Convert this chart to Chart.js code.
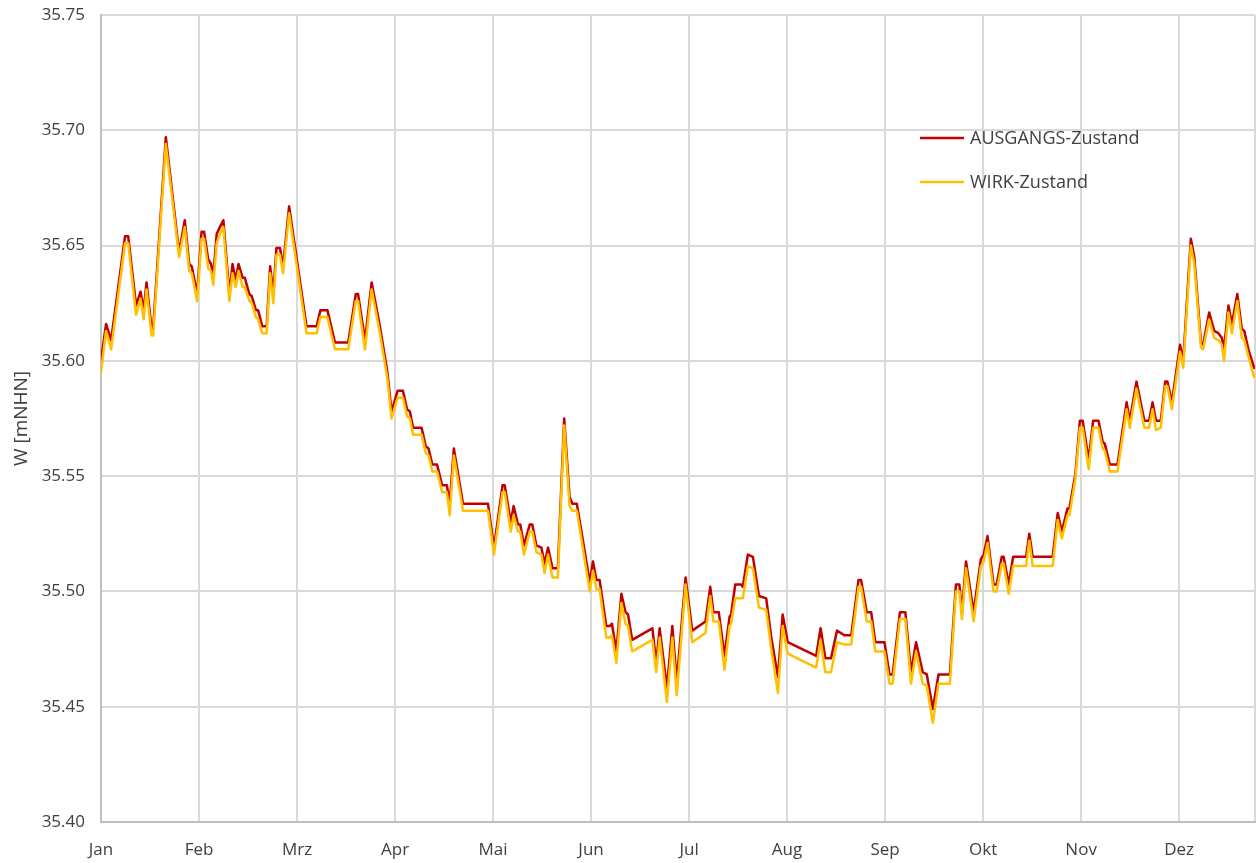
<!DOCTYPE html>
<html lang="de">
<head>
<meta charset="utf-8">
<title>W [mNHN]</title>
<script src="https://cdn.jsdelivr.net/npm/chart.js@4.4.1/dist/chart.umd.min.js"></script>
<style>
  html, body { margin: 0; padding: 0; background: #fff; }
  #wrap { width: 1256px; height: 863px; }
</style>
</head>
<body>
<div id="wrap"><canvas id="myChart" width="1256" height="863"></canvas></div>
<script>
// Achsen
const monate = ['Jan', 'Feb', 'Mrz', 'Apr', 'Mai', 'Jun', 'Jul', 'Aug', 'Sep', 'Okt', 'Nov', 'Dez'];
const monatsTicks = [0, 31, 62, 93, 124, 155, 186, 217, 248, 279, 310, 341, 365];

// Tag im Jahr (Stuetzstellen)
const tage = [
  0, 1.6, 3.2, 7.6, 8.6, 11.1, 12.5, 13.5, 14.4, 16.0, 16.5, 20.5, 24.7, 26.5, 27.9, 28.7, 30.4,
  31.8, 32.6, 33.9, 34.8, 35.5, 36.6, 37.6, 38.7, 40.6, 41.6, 42.6, 43.5, 44.8, 45.5, 46.9, 47.7,
  49.0, 49.7, 51.0, 52.4, 53.5, 54.5, 55.5, 56.6, 57.6, 59.5, 61.3, 65.0, 68.2, 69.4, 71.6, 74.0,
  78.2, 80.6, 81.3, 83.5, 85.6, 88.2, 90.5, 91.9, 93.8, 95.5, 96.8, 97.7, 98.7, 101.4, 102.7, 103.6,
  104.8, 106.3, 107.9, 109.4, 110.3, 111.6, 114.5, 122.4, 124.3, 127.0, 127.7, 129.6, 130.5, 131.9,
  132.6, 133.8, 135.6, 136.4, 137.7, 139.3, 140.3, 141.4, 142.8, 144.5, 146.5, 148.2, 149.1, 150.5,
  154.6, 155.6, 156.7, 157.7, 159.8, 160.9, 161.6, 163.0, 164.6, 165.9, 166.7, 168.0, 174.4, 175.6,
  176.7, 179.0, 180.7, 182.1, 184.9, 187.0, 191.2, 192.7, 193.7, 195.4, 197.2, 198.8, 199.3, 200.6,
  202.5, 203.0, 204.6, 206.2, 208.1, 210.4, 212.0, 214.1, 215.6, 217.2, 226.2, 227.6, 229.1, 230.9,
  232.8, 235.1, 237.3, 239.6, 240.4, 242.2, 243.6, 244.9, 247.8, 249.4, 250.4, 252.7, 254.4, 256.2,
  257.8, 259.9, 261.2, 263.1, 264.9, 268.5, 270.4, 271.5, 272.3, 273.6, 276.0, 278.3, 279.2, 280.4,
  282.3, 283.3, 284.9, 285.5, 287.1, 288.5, 292.6, 293.6, 294.7, 301.0, 302.6, 303.9, 305.7, 306.3,
  308.2, 309.6, 310.5, 312.4, 313.8, 315.5, 316.8, 317.5, 319.1, 321.5, 324.4, 325.4, 327.5, 330.0,
  331.5, 332.6, 333.7, 335.2, 336.6, 337.3, 338.7, 341.3, 342.3, 344.7, 345.8, 347.9, 348.6, 350.5,
  352.1, 353.4, 354.5, 355.2, 356.6, 357.7, 359.4, 360.8, 361.6, 362.9, 364.7
];

// AUSGANGS-Zustand
const ausgang = [
  35.600, 35.616, 35.609, 35.654, 35.654, 35.624, 35.630, 35.622, 35.634, 35.614, 35.614, 35.697, 35.647, 35.661, 35.642, 35.641, 35.629,
  35.656, 35.656, 35.644, 35.642, 35.637, 35.655, 35.658, 35.661, 35.629, 35.642, 35.635, 35.642, 35.636, 35.636, 35.629, 35.628,
  35.622, 35.622, 35.615, 35.615, 35.641, 35.629, 35.649, 35.649, 35.641, 35.667, 35.650, 35.615, 35.615, 35.622, 35.622, 35.608,
  35.608, 35.629, 35.629, 35.609, 35.634, 35.615, 35.596, 35.578, 35.587, 35.587, 35.579, 35.578, 35.571, 35.571, 35.563, 35.562,
  35.555, 35.555, 35.546, 35.546, 35.538, 35.562, 35.538, 35.538, 35.519, 35.546, 35.546, 35.530, 35.537, 35.529,
  35.529, 35.520, 35.529, 35.529, 35.520, 35.519, 35.512, 35.519, 35.510, 35.510, 35.575, 35.541, 35.538, 35.538,
  35.504, 35.513, 35.505, 35.505, 35.485, 35.485, 35.486, 35.474, 35.499, 35.491, 35.490, 35.479, 35.484, 35.469,
  35.484, 35.458, 35.485, 35.461, 35.506, 35.483, 35.487, 35.502, 35.491, 35.491, 35.472, 35.489, 35.490, 35.503,
  35.503, 35.502, 35.516, 35.515, 35.498, 35.497, 35.480, 35.463, 35.490, 35.478, 35.472, 35.484, 35.471, 35.471,
  35.483, 35.481, 35.481, 35.505, 35.505, 35.491, 35.491, 35.478, 35.478, 35.464, 35.464, 35.491, 35.491, 35.465,
  35.478, 35.465, 35.464, 35.449, 35.464, 35.464, 35.503, 35.503, 35.491, 35.513, 35.491, 35.514, 35.516, 35.524,
  35.503, 35.503, 35.515, 35.515, 35.503, 35.515, 35.515, 35.525, 35.515, 35.515, 35.534, 35.526, 35.536, 35.536,
  35.551, 35.574, 35.574, 35.557, 35.574, 35.574, 35.565, 35.564, 35.555, 35.555, 35.582, 35.574, 35.591, 35.574,
  35.574, 35.582, 35.574, 35.574, 35.591, 35.591, 35.582, 35.607, 35.600, 35.653, 35.645, 35.608, 35.607, 35.621,
  35.613, 35.612, 35.610, 35.605, 35.624, 35.616, 35.629, 35.614, 35.613, 35.605, 35.597
];

// WIRK-Zustand
const wirk = [
  35.595, 35.613, 35.605, 35.651, 35.651, 35.620, 35.627, 35.618, 35.631, 35.611, 35.611, 35.694, 35.645, 35.658, 35.639, 35.638, 35.626,
  35.653, 35.653, 35.640, 35.639, 35.633, 35.651, 35.655, 35.658, 35.626, 35.638, 35.632, 35.639, 35.632, 35.632, 35.626, 35.625,
  35.619, 35.618, 35.612, 35.612, 35.638, 35.625, 35.646, 35.646, 35.638, 35.664, 35.647, 35.612, 35.612, 35.619, 35.619, 35.605,
  35.605, 35.626, 35.626, 35.605, 35.631, 35.612, 35.593, 35.575, 35.584, 35.584, 35.576, 35.575, 35.568, 35.568, 35.560, 35.559,
  35.552, 35.552, 35.543, 35.543, 35.533, 35.559, 35.535, 35.535, 35.516, 35.543, 35.543, 35.526, 35.533, 35.526,
  35.526, 35.516, 35.526, 35.526, 35.517, 35.516, 35.508, 35.516, 35.506, 35.506, 35.572, 35.537, 35.535, 35.535,
  35.500, 35.509, 35.501, 35.501, 35.480, 35.480, 35.481, 35.469, 35.495, 35.486, 35.485, 35.474, 35.479, 35.465,
  35.480, 35.452, 35.480, 35.455, 35.503, 35.478, 35.482, 35.498, 35.487, 35.487, 35.466, 35.485, 35.486, 35.497,
  35.497, 35.497, 35.511, 35.510, 35.493, 35.492, 35.475, 35.456, 35.485, 35.473, 35.467, 35.479, 35.465, 35.465,
  35.478, 35.477, 35.477, 35.502, 35.502, 35.487, 35.487, 35.474, 35.474, 35.460, 35.460, 35.488, 35.488, 35.460,
  35.474, 35.460, 35.459, 35.443, 35.460, 35.460, 35.500, 35.500, 35.488, 35.510, 35.487, 35.511, 35.513, 35.521,
  35.500, 35.500, 35.512, 35.512, 35.499, 35.511, 35.511, 35.522, 35.511, 35.511, 35.531, 35.523, 35.533, 35.533,
  35.549, 35.571, 35.571, 35.553, 35.571, 35.571, 35.562, 35.561, 35.552, 35.552, 35.579, 35.571, 35.588, 35.571,
  35.571, 35.579, 35.570, 35.571, 35.589, 35.589, 35.579, 35.604, 35.597, 35.650, 35.642, 35.606, 35.605, 35.618,
  35.610, 35.609, 35.607, 35.600, 35.621, 35.612, 35.626, 35.610, 35.609, 35.602, 35.593
];

const rot = '#c00000';
const gelb = '#ffc000';
const schrift = '"Open Sans", "Liberation Sans", sans-serif';
const textFarbe = '#404040';

// Legende sitzt im Diagrammfeld, wie im Original
const legendeImFeld = {
  id: 'legendeImFeld',
  afterDraw(chart) {
    const c = chart.ctx;
    const reihen = chart.data.datasets;
    c.save();
    c.font = '18px ' + schrift;
    c.textBaseline = 'middle';
    c.fillStyle = textFarbe;
    reihen.forEach((ds, i) => {
      const y = 138 + i * 44;
      c.strokeStyle = ds.borderColor;
      c.lineWidth = 2.5;
      c.beginPath();
      c.moveTo(920, y);
      c.lineTo(964, y);
      c.stroke();
      c.fillText(ds.label, 970, y + 1);
    });
    c.restore();
  }
};

const punkte = werte => werte.map((v, i) => ({ x: tage[i], y: v }));

const ctx = document.getElementById('myChart');

new Chart(ctx, {
  type: 'line',
  data: {
    datasets: [
      {
        label: 'AUSGANGS-Zustand',
        data: punkte(ausgang),
        borderColor: rot,
        borderWidth: 2.5,
        borderJoinStyle: 'round',
        borderCapStyle: 'round',
        pointRadius: 0,
        tension: 0,
        order: 1
      },
      {
        label: 'WIRK-Zustand',
        data: punkte(wirk),
        borderColor: gelb,
        borderWidth: 2.5,
        borderJoinStyle: 'round',
        borderCapStyle: 'round',
        pointRadius: 0,
        tension: 0,
        order: 0
      }
    ]
  },
  options: {
    responsive: false,
    animation: false,
    layout: { padding: { top: 15, right: 1, left: 0, bottom: 0 } },
    plugins: {
      legend: { display: false },
      tooltip: { enabled: false }
    },
    scales: {
      x: {
        type: 'linear',
        min: 0,
        max: 365,
        afterBuildTicks: s => { s.ticks = monatsTicks.map(v => ({ value: v })); },
        afterFit: s => { s.height = 41; s.paddingLeft = 0; s.paddingRight = 0; },
        ticks: {
          autoSkip: false,
          maxRotation: 0,
          padding: 18,
          color: textFarbe,
          font: { family: schrift, size: 17 },
          callback: (v, i) => monate[i] || ''
        },
        grid: { color: '#d9d9d9', lineWidth: 2, drawTicks: false },
        border: { color: '#bfbfbf', width: 2 }
      },
      y: {
        min: 35.40,
        max: 35.75,
        afterFit: s => { s.width = 101; s.paddingTop = 0; s.paddingBottom = 0; },
        ticks: {
          stepSize: 0.05,
          padding: 16,
          color: textFarbe,
          font: { family: schrift, size: 17 },
          callback: v => v.toFixed(2)
        },
        grid: { color: '#d9d9d9', lineWidth: 2, drawTicks: false },
        border: { color: '#bfbfbf', width: 2 },
        title: {
          display: true,
          text: 'W [mNHN]',
          color: textFarbe,
          font: { family: schrift, size: 19 },
          padding: { top: 10, bottom: 0 }
        }
      }
    }
  },
  plugins: [legendeImFeld]
});
</script>
</body>
</html>
